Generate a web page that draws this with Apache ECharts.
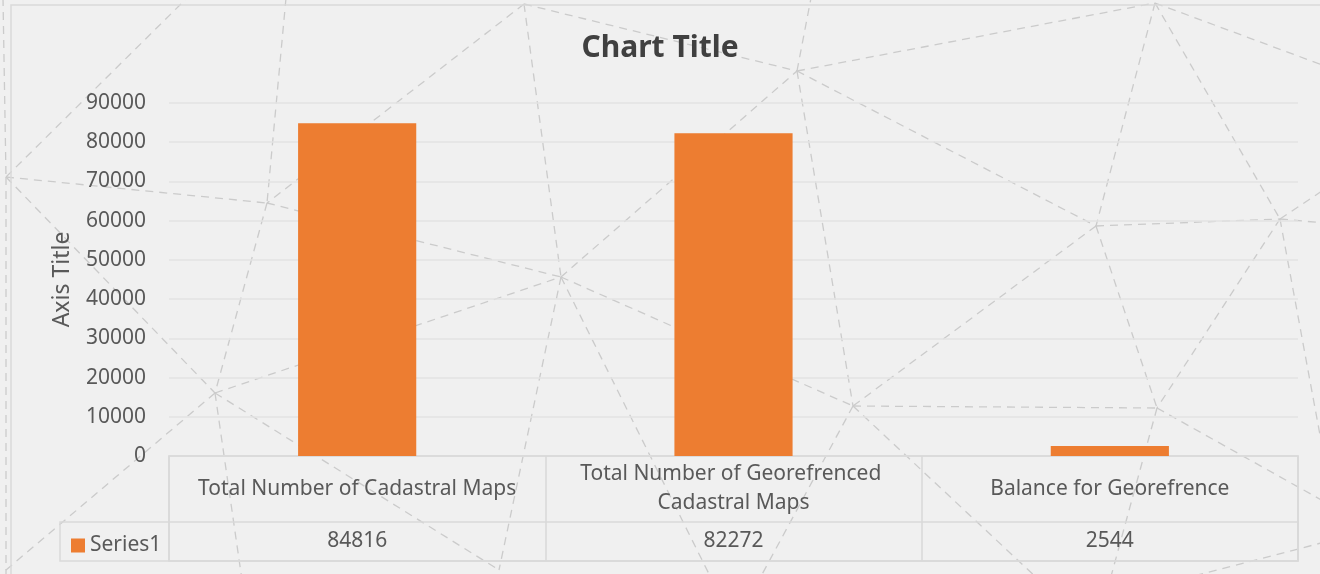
<!DOCTYPE html>
<html>
<head>
<meta charset="utf-8">
<script src="https://cdn.jsdelivr.net/npm/echarts@6/dist/echarts.min.js"></script>
<style>
  html, body { margin: 0; padding: 0; background: #f0f0f0; }
  #chart { width: 1320px; height: 574px; }
</style>
</head>
<body>
<div id="chart"></div>
<script>
var categories = ['Total Number of Cadastral Maps', 'Total Number of Georefrenced Cadastral Maps', 'Balance for Georefrence'];
var series1 = [84816, 82272, 2544];
var yTicks = [0, 10000, 20000, 30000, 40000, 50000, 60000, 70000, 80000, 90000];

// decorative dashed background network (not data)
var N = {
    A: [6, 177], B: [267, 203], C: [524, 4], D: [797, 71], E: [1155, 3],
    F: [1096, 226], G: [1280, 219], H: [561, 277], I: [215, 393],
    J: [853, 406], K: [1157, 408], L: [6, 570], M: [499, 570]
};
var bgEdges = [
    ['A', [187, -2]], [[3, -2], 'A'], ['A', 'L'], ['L', [6, 580]], [[286, -2], 'B'], ['B', 'I'],
    ['I', [242, 580]], ['A', 'B'], ['B', 'H'], ['A', 'I'], ['I', 'H'], ['I', 'L'], ['I', 'M'],
    ['C', 'B'], ['C', 'D'], ['C', 'H'], ['H', 'J'], ['H', 'D'], ['H', 'M'], ['H', [712, 580]],
    ['D', 'E'], ['D', [811, -2]], ['D', 'J'], ['D', 'F'], ['E', 'F'], ['E', 'G'], ['E', [1325, 66]],
    ['F', 'G'], ['F', 'J'], ['F', 'K'], ['G', 'K'], ['G', [1325, 189]], ['G', [1325, 223]],
    ['G', [1325, 462]], ['J', 'K'], ['J', [1039, 580]], ['J', [759, 580]], ['K', [1110, 580]],
    ['K', [1325, 502]], [[1325, 542], [1178, 580]]
];

var pt = function(p) { return typeof p === 'string' ? N[p] : p; };
var graphics = bgEdges.map(function(e) {
    var a = pt(e[0]), b = pt(e[1]);
    return {
        type: 'line', z: -10, silent: true,
        shape: { x1: a[0], y1: a[1], x2: b[0], y2: b[1] },
        style: { stroke: '#cbcbcb', lineWidth: 1.3, lineDash: [8, 6] }
    };
});
graphics.push({
    type: 'rect', z: -9, silent: true,
    shape: { x: 11, y: 5, width: 1340, height: 620 },
    style: { fill: 'none', stroke: '#d9d9d9', lineWidth: 1.5 }
});

var font = 'Noto Sans';
var txt = '#595959';
var chart = echarts.init(document.getElementById('chart'));
chart.setOption({
    backgroundColor: '#f0f0f0',
    animation: false,
    textStyle: { fontFamily: font },
    graphic: graphics,
    title: {
        text: 'Chart Title', left: 'center', top: 28,
        textStyle: { fontSize: 30, fontWeight: 'bold', color: '#404040', fontFamily: font }
    },
    legend: {
        left: 66, top: 530, itemWidth: 14, itemHeight: 14, icon: 'rect',
        textStyle: { fontSize: 21, color: txt },
        data: ['Series1']
    },
    grid: [
        { left: 169, right: 22, top: 103, bottom: 118 },
        { left: 169, right: 22, top: 456, height: 105, show: true, borderColor: '#d9d9d9', borderWidth: 1.5, backgroundColor: 'transparent' },
        { left: 60, right: 22, top: 522, height: 39, show: true, borderColor: '#d9d9d9', borderWidth: 1.5, backgroundColor: 'transparent' }
    ],
    xAxis: [
        {
            type: 'category', gridIndex: 0, data: categories,
            axisLine: { lineStyle: { color: '#d9d9d9', width: 1.5 } },
            axisTick: { show: false },
            axisLabel: {
                interval: 0, margin: 33, verticalAlign: 'middle', width: 360, overflow: 'break',
                lineHeight: 29, fontSize: 21, color: txt
            }
        },
        {
            type: 'category', gridIndex: 1, data: categories,
            axisLine: { show: false }, axisTick: { show: false },
            splitLine: { show: true, interval: 0, lineStyle: { color: '#d9d9d9', width: 1.5 } },
            axisLabel: {
                interval: 0, inside: true, margin: 20, verticalAlign: 'middle', fontSize: 21, color: txt,
                formatter: function(v, i) { return String(series1[i]); }
            }
        },
        { type: 'category', gridIndex: 2, show: false, data: categories }
    ],
    yAxis: [
        {
            type: 'value', gridIndex: 0, min: yTicks[0], max: yTicks[yTicks.length - 1], interval: yTicks[1] - yTicks[0],
            name: 'Axis Title', nameLocation: 'middle', nameGap: 95,
            nameTextStyle: { fontSize: 23, color: txt },
            axisLine: { show: false }, axisTick: { show: false },
            axisLabel: { margin: 23, fontSize: 21, color: txt, formatter: function(v) { return String(v); } },
            splitLine: { lineStyle: { color: '#e3e3e3', width: 1.5 } }
        },
        { type: 'value', gridIndex: 1, show: false },
        { type: 'value', gridIndex: 2, show: false }
    ],
    series: [{
        name: 'Series1', type: 'bar', xAxisIndex: 0, yAxisIndex: 0,
        data: series1, barWidth: '31.4%',
        itemStyle: { color: '#ED7D31' }
    }]
});
</script>
</body>
</html>
